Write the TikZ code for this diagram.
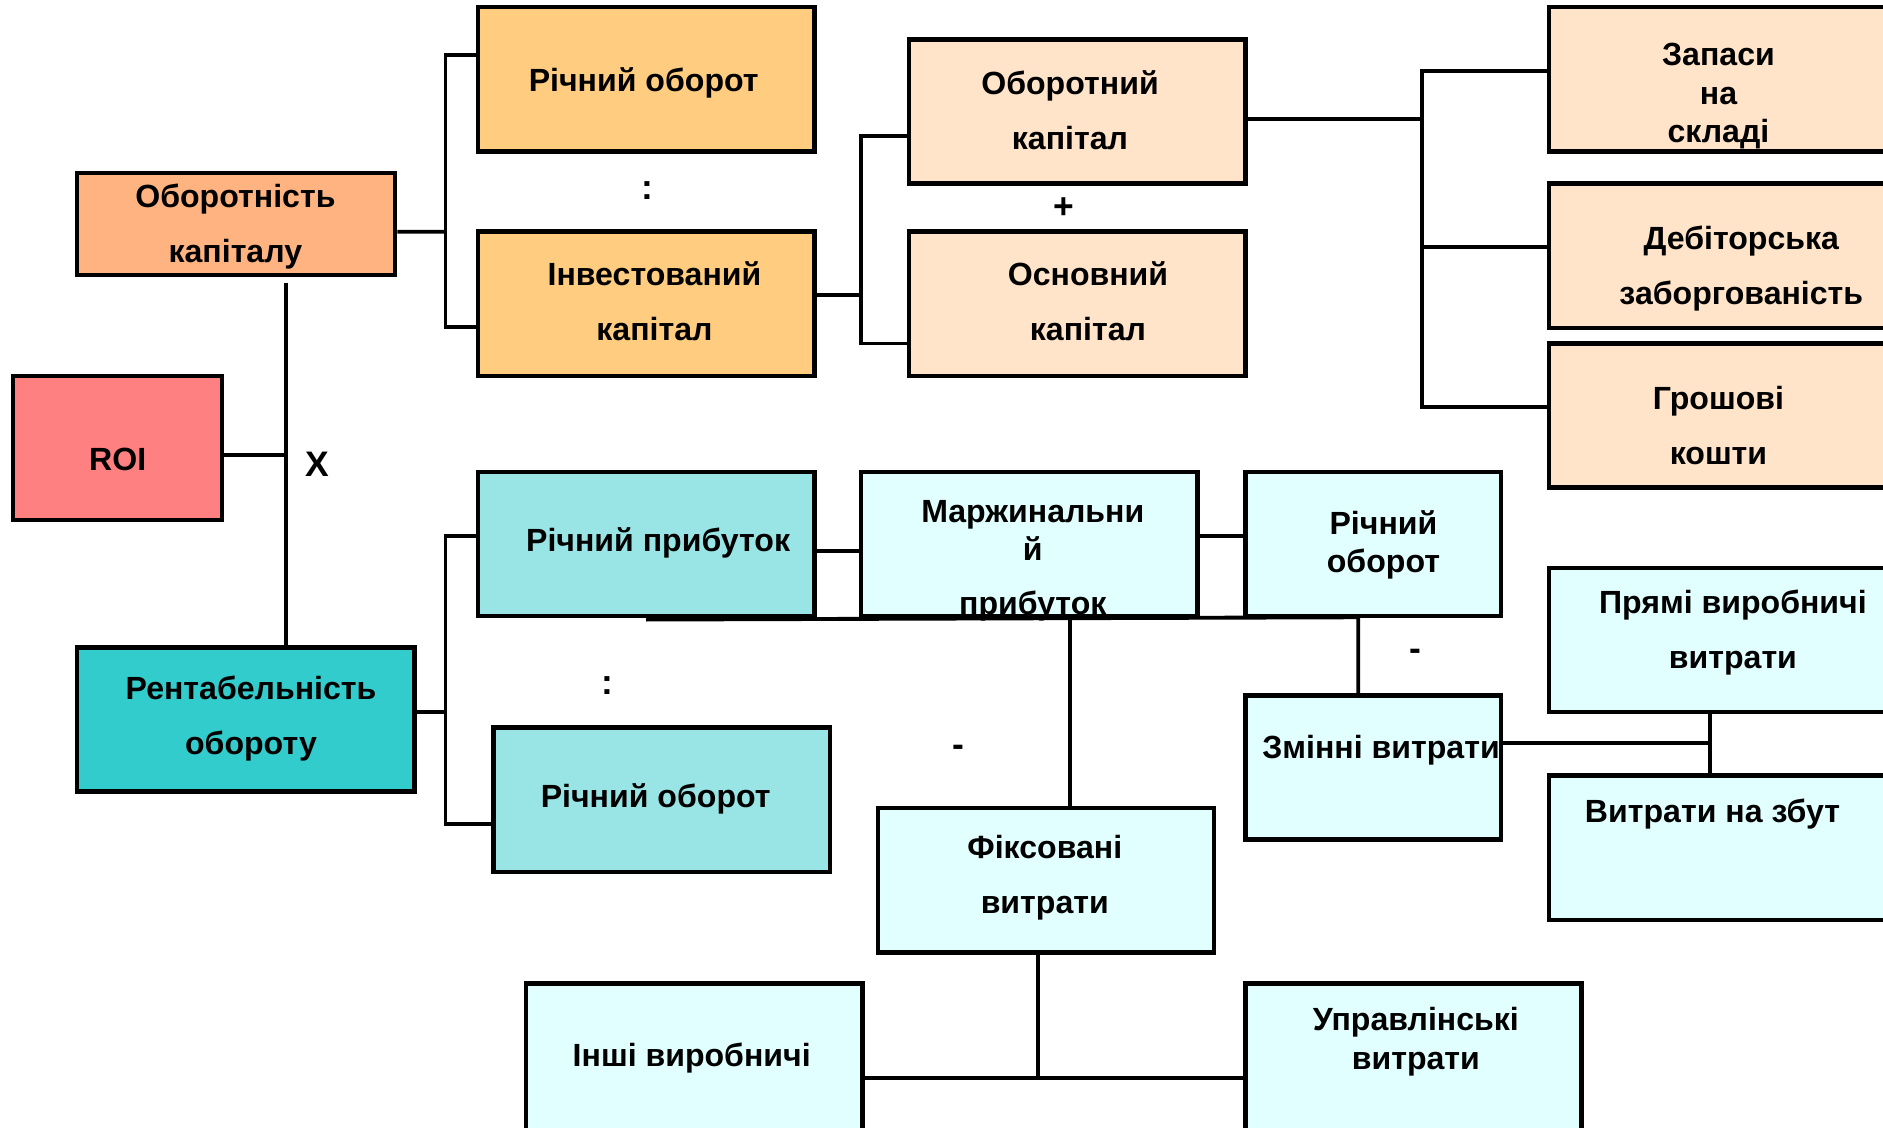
\documentclass[tikz,border=0pt]{standalone}
\usepackage{xcolor}
\usepackage{fontspec}
\setmainfont{Liberation Sans}
\usepackage{tikz}
\usetikzlibrary{positioning, calc}
\definecolor{myorange}{RGB}{255,179,128}
\definecolor{myred}{RGB}{255,128,128}
\definecolor{myteal}{RGB}{51,204,204}
\definecolor{myamber}{RGB}{255,204,128}
\definecolor{mypeach}{RGB}{255,228,201}
\definecolor{mycyan}{RGB}{153,229,229}
\definecolor{mylight}{RGB}{225,255,255}
\tikzset{
  box/.style={rectangle, draw=black, line width=2.7pt,
    minimum width=7cm, minimum height=3cm, inner sep=0pt},
  txt/.style={font=\fontsize{19}{32.6}\selectfont\bfseries,
    align=center, inner sep=0pt, yshift=-0.05cm},
  txtt/.style={font=\fontsize{19}{22.7}\selectfont\bfseries,
    align=center, inner sep=0pt, yshift=-0.05cm},
  sign/.style={font=\fontsize{21}{21}\selectfont\bfseries, inner sep=0pt,
    yshift=-0.04cm},
  conn/.style={line width=2.3pt, color=black}
}

\begin{document}
\begin{tikzpicture}[x=0.025cm, y=-0.025cm]
  \fill[white] (0,0) rectangle (1568,939);
  \useasboundingbox (0,0) rectangle (1568,939);

  % left column
  \node[box, fill=myorange, minimum width=6.625cm, minimum height=2.125cm] (obk) at (196.5,186.5) {};
  \node[txt] (obk-t) at (196,187) {Оборотність\\капіталу};
  \node[box, fill=myred, minimum width=4.35cm] (roi) at (98,373) {};
  \node[txt] (roi-t) at (98,381) {ROI};
  \node[box, fill=myteal, minimum width=7.025cm] (rent) at (204.5,599) {};
  \node[txt] (rent-t) at (209,596) {Рентабельність\\обороту};

  % capital turnover branch
  \node[box, fill=myamber] (ro1) at (538,66) {};
  \node[txt] (ro1-t) at (536,67) {Річний оборот};
  \node[box, fill=myamber] (inv) at (538,253) {};
  \node[txt] (inv-t) at (545,249) {Інвестований\\капітал};
  \node[box, fill=mypeach] (obc) at (897,93) {};
  \node[txt] (obc-t) at (891,90) {Оборотний\\капітал};
  \node[box, fill=mypeach] (osn) at (897,253) {};
  \node[txt] (osn-t) at (906,249) {Основний\\капітал};
  \node[box, fill=mypeach, minimum width=7.125cm] (zap) at (1432.5,66) {};
  \node[txtt] (zap-t) at (1431,78) {Запаси\\на\\складі};
  \node[box, fill=mypeach, minimum width=7.125cm] (deb) at (1432.5,213) {};
  \node[txt] (deb-t) at (1450,222) {Дебіторська\\заборгованість};
  \node[box, fill=mypeach, minimum width=7.125cm] (gro) at (1432.5,346) {};
  \node[txt] (gro-t) at (1431,352) {Грошові\\кошти};

  % profitability branch
  \node[box, fill=mycyan] (rpr) at (538,453) {};
  \node[txt] (rpr-t) at (548,450) {Річний прибуток};
  \node[box, fill=mycyan] (ro3) at (551,666) {};
  \node[txt] (ro3-t) at (546,663) {Річний оборот};
  \node[box, fill=mylight] (mar) at (857,453) {};
  \node[txtt] (mar-t) at (860,465) {Маржинальни\\й\\[0.33cm]прибуток};
  \node[box, fill=mylight, minimum width=5.325cm] (ro2) at (1143.5,453) {};
  \node[txtt] (ro2-t) at (1152,452) {Річний\\оборот};
  \node[box, fill=mylight, minimum width=5.325cm] (zmv) at (1143.5,639) {};
  \node[txt] (zmv-t) at (1150,623) {Змінні витрати};
  \node[box, fill=mylight, minimum width=7.125cm] (pvv) at (1432.5,533) {};
  \node[txt] (pvv-t) at (1443,525) {Прямі виробничі\\витрати};
  \node[box, fill=mylight, minimum width=7.125cm] (vnz) at (1432.5,706) {};
  \node[txt] (vnz-t) at (1426,676) {Витрати на збут};
  \node[box, fill=mylight] (fix) at (871,733) {};
  \node[txt] (fix-t) at (870,729) {Фіксовані\\витрати};
  \node[box, fill=mylight, minimum height=3.15cm] (ins) at (578,882) {};
  \node[txt] (ins-t) at (576,879) {Інші виробничі};
  \node[box, fill=mylight, minimum height=3.15cm] (upr) at (1177,882) {};
  \node[txtt] (upr-t) at (1179,865.5) {Управлінські\\витрати};

  % operators
  \node[sign] (div1) at (539,157) {:};
  \node[sign] (plus) at (886,172) {+};
  \node[sign] (mult) at (264.5,385) {X};
  \node[sign] (div2) at (506,569) {:};
  \node[sign] (min1) at (798,624) {-};
  \node[sign] (min2) at (1179,544) {-};

  % junctions
  \coordinate (j1) at (371,193);
  \coordinate (j2) at (238,379);
  \coordinate (j3) at (371,593);
  \coordinate (j4) at (717,246);
  \coordinate (j5) at (1184,99);
  \coordinate (j6) at (1184,206);
  \coordinate (j7) at (891,514);
  \coordinate (j8) at (1131,514);
  \coordinate (j9) at (1424,619);
  \coordinate (j10) at (864,898);

  % connectors
  \draw[conn] ($(obk.east)+(0,6.5)$) -- (j1);
  \draw[conn] ($(ro1.west)+(0,-20)$) -| (j1) |- ($(inv.west)+(0,19)$);
  \draw[conn] ($(roi.east)+(0,6)$) -- (j2);
  \draw[conn] ($(obk.south -| j2)+(0,5)$) -- (rent.north -| j2);
  \draw[conn] ($(rent.east)+(0,-6)$) -- (j3);
  \draw[conn] ($(rpr.west)+(0,-7)$) -| (j3) |- ($(ro3.west)+(0,20)$);
  \draw[conn] ($(inv.east)+(0,-7)$) -- (j4);
  \draw[conn] ($(obc.west)+(0,20)$) -| (j4) |- ($(osn.west)+(0,33)$);
  \draw[conn] ($(obc.east)+(0,6)$) -- (j5);
  \draw[conn] ($(zap.west)+(0,-7)$) -| (j5) |- ($(gro.west)+(0,-7)$);
  \draw[conn] ($(deb.west)+(0,-7)$) -- (j6);
  \draw[conn] ($(rpr.east)+(0,6)$) -- ($(mar.west)+(0,6)$);
  \draw[conn] ($(mar.east)+(0,-7)$) -- ($(ro2.west)+(0,-7)$);
  \draw[conn] ($(rpr.south)+(0,1)$) -- (j8) -- (j8 |- zmv.north);
  \draw[conn] (j7) -- (j7 |- fix.north);
  \draw[conn] ($(zmv.east)+(0,-20)$) -- (j9);
  \draw[conn] (pvv.south -| j9) -- (vnz.north -| j9);
  \draw[conn] (fix.south -| j10) -- (j10);
  \draw[conn] ($(ins.east)+(0,16)$) -- ($(upr.west)+(0,16)$);
\end{tikzpicture}
\end{document}
